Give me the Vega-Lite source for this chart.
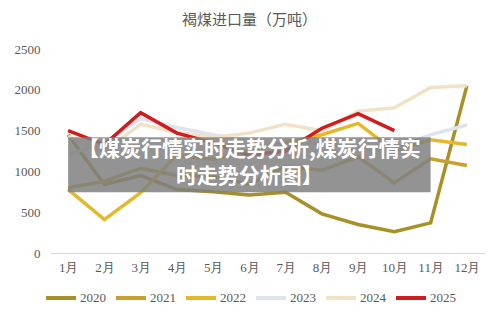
{
  "$schema": "https://vega.github.io/schema/vega-lite/v6.json",
  "autosize": "none",
  "width": 435,
  "height": 212,
  "padding": {"left": 50, "top": 41, "right": 15, "bottom": 64},
  "background": "white",
  "title": {"text": "褐煤进口量（万吨）", "font": "Noto Sans CJK SC", "fontSize": 15, "fontWeight": "normal", "color": "#595959", "anchor": "middle", "frame": "bounds", "offset": 13},
  "datasets": {
    "lines": [
      {"month": "1月", "year": "2020", "value": 1450}, {"month": "2月", "year": "2020", "value": 840}, {"month": "3月", "year": "2020", "value": 950}, {"month": "4月", "year": "2020", "value": 780}, {"month": "5月", "year": "2020", "value": 750}, {"month": "6月", "year": "2020", "value": 710}, {"month": "7月", "year": "2020", "value": 745}, {"month": "8月", "year": "2020", "value": 480}, {"month": "9月", "year": "2020", "value": 350}, {"month": "10月", "year": "2020", "value": 260}, {"month": "11月", "year": "2020", "value": 370}, {"month": "12月", "year": "2020", "value": 2050},
      {"month": "1月", "year": "2021", "value": 800}, {"month": "2月", "year": "2021", "value": 880}, {"month": "3月", "year": "2021", "value": 1040}, {"month": "4月", "year": "2021", "value": 950}, {"month": "5月", "year": "2021", "value": 940}, {"month": "6月", "year": "2021", "value": 840}, {"month": "7月", "year": "2021", "value": 1060}, {"month": "8月", "year": "2021", "value": 1015}, {"month": "9月", "year": "2021", "value": 1180}, {"month": "10月", "year": "2021", "value": 860}, {"month": "11月", "year": "2021", "value": 1156}, {"month": "12月", "year": "2021", "value": 1074},
      {"month": "1月", "year": "2022", "value": 780}, {"month": "2月", "year": "2022", "value": 410}, {"month": "3月", "year": "2022", "value": 740}, {"month": "4月", "year": "2022", "value": 1200}, {"month": "5月", "year": "2022", "value": 1150}, {"month": "6月", "year": "2022", "value": 1250}, {"month": "7月", "year": "2022", "value": 1350}, {"month": "8月", "year": "2022", "value": 1450}, {"month": "9月", "year": "2022", "value": 1590}, {"month": "10月", "year": "2022", "value": 1250}, {"month": "11月", "year": "2022", "value": 1390}, {"month": "12月", "year": "2022", "value": 1330},
      {"month": "1月", "year": "2023", "value": 1210}, {"month": "2月", "year": "2023", "value": 1350}, {"month": "3月", "year": "2023", "value": 1650}, {"month": "4月", "year": "2023", "value": 1540}, {"month": "5月", "year": "2023", "value": 1450}, {"month": "6月", "year": "2023", "value": 1380}, {"month": "7月", "year": "2023", "value": 1300}, {"month": "8月", "year": "2023", "value": 1350}, {"month": "9月", "year": "2023", "value": 1280}, {"month": "10月", "year": "2023", "value": 1280}, {"month": "11月", "year": "2023", "value": 1450}, {"month": "12月", "year": "2023", "value": 1570},
      {"month": "1月", "year": "2024", "value": 1430}, {"month": "2月", "year": "2024", "value": 1250}, {"month": "3月", "year": "2024", "value": 1580}, {"month": "4月", "year": "2024", "value": 1480}, {"month": "5月", "year": "2024", "value": 1420}, {"month": "6月", "year": "2024", "value": 1470}, {"month": "7月", "year": "2024", "value": 1580}, {"month": "8月", "year": "2024", "value": 1500}, {"month": "9月", "year": "2024", "value": 1740}, {"month": "10月", "year": "2024", "value": 1780}, {"month": "11月", "year": "2024", "value": 2030}, {"month": "12月", "year": "2024", "value": 2050},
      {"month": "1月", "year": "2025", "value": 1500}, {"month": "2月", "year": "2025", "value": 1330}, {"month": "3月", "year": "2025", "value": 1720}, {"month": "4月", "year": "2025", "value": 1470}, {"month": "5月", "year": "2025", "value": 1350}, {"month": "6月", "year": "2025", "value": 1200}, {"month": "7月", "year": "2025", "value": 1250}, {"month": "8月", "year": "2025", "value": 1530}, {"month": "9月", "year": "2025", "value": 1710}, {"month": "10月", "year": "2025", "value": 1500}
    ],
    "banner": [
      {"m1": "1月", "m2": "11月", "v1": 745, "v2": 1420}
    ],
    "bannerText": [
      {"m": "6月", "v": 1262, "label": "【煤炭行情实时走势分析,煤炭行情实\n时走势分析图】"}
    ]
  },
  "layer": [
    {
      "data": {"name": "lines"},
      "mark": {"type": "line", "strokeWidth": 3.5, "strokeJoin": "miter"},
      "encoding": {
        "x": {"field": "month", "type": "ordinal", "scale": {"type": "point", "padding": 0.5, "domain": ["1月", "2月", "3月", "4月", "5月", "6月", "7月", "8月", "9月", "10月", "11月", "12月"]}, "axis": {"title": null, "labelAngle": 0, "ticks": false, "domainColor": "#d9d9d9", "domainWidth": 1, "labelPadding": 8}},
        "y": {"field": "value", "type": "quantitative", "scale": {"domain": [0, 2500]}, "axis": {"title": null, "values": [0, 500, 1000, 1500, 2000, 2500], "format": "d", "grid": false, "domain": false, "ticks": false, "labelPadding": 10}},
        "color": {"field": "year", "type": "nominal", "scale": {"domain": ["2020", "2021", "2022", "2023", "2024", "2025"], "range": ["#a88f26", "#c8a02a", "#e4b82a", "#dfe4ec", "#f3e1c6", "#d01c1c"]},
          "legend": {"title": null, "orient": "none", "legendX": -6, "legendY": 240, "direction": "horizontal", "columns": 6, "symbolType": "stroke", "symbolStrokeWidth": 4, "symbolSize": 900, "labelOffset": 2, "columnPadding": 2, "padding": 0}}
      }
    },
    {
      "data": {"name": "banner"},
      "mark": {"type": "rect", "fill": "#808080", "opacity": 0.85},
      "encoding": {
        "x": {"field": "m1", "type": "ordinal"},
        "x2": {"field": "m2"},
        "y": {"field": "v1", "type": "quantitative"},
        "y2": {"field": "v2"}
      }
    },
    {
      "data": {"name": "bannerText"},
      "mark": {"type": "text", "font": "Noto Sans CJK SC", "fontWeight": "bold", "fontSize": 21, "lineHeight": 27, "lineBreak": "\n", "fill": "white", "align": "center", "baseline": "middle"},
      "encoding": {
        "x": {"field": "m", "type": "ordinal"},
        "y": {"field": "v", "type": "quantitative"},
        "text": {"field": "label"}
      }
    }
  ],
  "config": {
    "view": {"stroke": null},
    "axis": {"labelFont": "Liberation Serif", "labelFontSize": 13, "labelColor": "#595959"},
    "legend": {"labelFont": "Liberation Serif", "labelFontSize": 13, "labelColor": "#595959"}
  }
}
